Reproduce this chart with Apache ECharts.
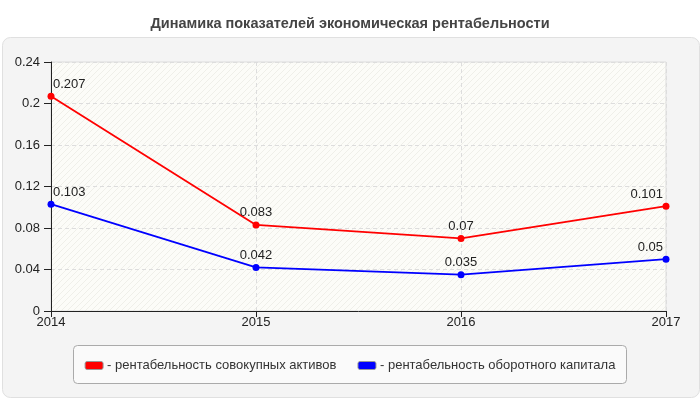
<!DOCTYPE html>
<html>
<head>
<meta charset="utf-8">
<script src="https://cdn.jsdelivr.net/npm/echarts@6/dist/echarts.min.js"></script>
<style>
  html, body { margin: 0; padding: 0; background: #fff; }
  #chart { width: 700px; height: 400px; }
</style>
</head>
<body>
<div id="chart"></div>
<script>
var years = ['2014', '2015', '2016', '2017'];
var assets = [0.207, 0.083, 0.07, 0.101];
var capital = [0.103, 0.042, 0.035, 0.05];
var seriesNames = ['- рентабельность совокупных активов', '- рентабельность оборотного капитала'];

var font = 'Arial, "Liberation Sans", sans-serif';

// faint diagonal hatching for the plot background
var hatch = document.createElement('canvas');
hatch.width = 6;
hatch.height = 6;
var hctx = hatch.getContext('2d');
hctx.fillStyle = '#fcfcf8';
hctx.fillRect(0, 0, 6, 6);
hctx.strokeStyle = '#efefe9';
hctx.lineWidth = 1;
hctx.beginPath();
hctx.moveTo(0, 6); hctx.lineTo(6, 0);
hctx.moveTo(-1, 1); hctx.lineTo(1, -1);
hctx.moveTo(5, 7); hctx.lineTo(7, 5);
hctx.stroke();

// first/last labels are kept inside the plot
function pointLabels(arr) {
  return arr.map(function (v, i) {
    var d = { value: v };
    if (i === 0) d.label = { align: 'left', offset: [2, 0] };
    if (i === arr.length - 1) d.label = { align: 'right', offset: [-3, 0] };
    return d;
  });
}

var myChart = echarts.init(document.getElementById('chart'));
var option = {
  backgroundColor: '#fff',
  textStyle: { fontFamily: font },
  title: {
    text: 'Динамика показателей экономическая рентабельности',
    left: 'center',
    top: 11,
    textStyle: { fontSize: 14.5, fontWeight: 'bold', color: '#444', fontFamily: font }
  },
  graphic: [
    {
      type: 'rect', z: -10, left: 2, top: 37,
      shape: { width: 697, height: 360, r: 8 },
      style: { fill: '#f4f4f4', stroke: '#e0e0e0', lineWidth: 1 }
    },
    {
      type: 'rect', z: -5, left: 73, top: 345,
      shape: { width: 553, height: 38, r: 4 },
      style: { fill: '#fafafa', stroke: '#aaa', lineWidth: 1 }
    }
  ],
  legend: {
    top: 354,
    left: 'center',
    itemWidth: 18,
    itemHeight: 8,
    itemGap: 21,
    icon: 'roundRect',
    textStyle: { fontSize: 13, color: '#333', padding: [0, 0, 0, -1] },
    data: seriesNames.map(function (n) {
      return { name: n, itemStyle: { borderColor: '#999', borderWidth: 1 } };
    })
  },
  grid: {
    left: 51, right: 34, top: 62, bottom: 89,
    show: true,
    backgroundColor: { image: hatch, repeat: 'repeat' },
    borderColor: '#ddd',
    borderWidth: 1
  },
  xAxis: {
    type: 'category',
    boundaryGap: false,
    data: years,
    axisLine: { lineStyle: { color: '#222' } },
    axisTick: { show: true, length: 6, lineStyle: { color: '#222' } },
    axisLabel: { color: '#222', fontSize: 13, margin: 5 },
    splitLine: { show: true, lineStyle: { color: '#ddd', type: [4, 3] } }
  },
  yAxis: {
    type: 'value',
    min: 0,
    max: 0.24,
    interval: 0.04,
    axisLine: { show: true, lineStyle: { color: '#222' } },
    axisTick: { show: true, length: 7, lineStyle: { color: '#222' } },
    axisLabel: { color: '#222', fontSize: 13, margin: 11 },
    splitLine: { show: true, lineStyle: { color: '#ddd', type: [4, 3] } }
  },
  series: [
    {
      name: seriesNames[0],
      type: 'line',
      data: pointLabels(assets),
      color: '#ff0000',
      symbol: 'circle',
      symbolSize: 7,
      lineStyle: { width: 1.8 },
      label: { show: true, position: 'top', color: '#222', fontSize: 13, distance: 2 }
    },
    {
      name: seriesNames[1],
      type: 'line',
      data: pointLabels(capital),
      color: '#0000ff',
      symbol: 'circle',
      symbolSize: 7,
      lineStyle: { width: 1.8 },
      label: { show: true, position: 'top', color: '#222', fontSize: 13, distance: 2 }
    }
  ]
};
option && myChart.setOption(option);
</script>
</body>
</html>
